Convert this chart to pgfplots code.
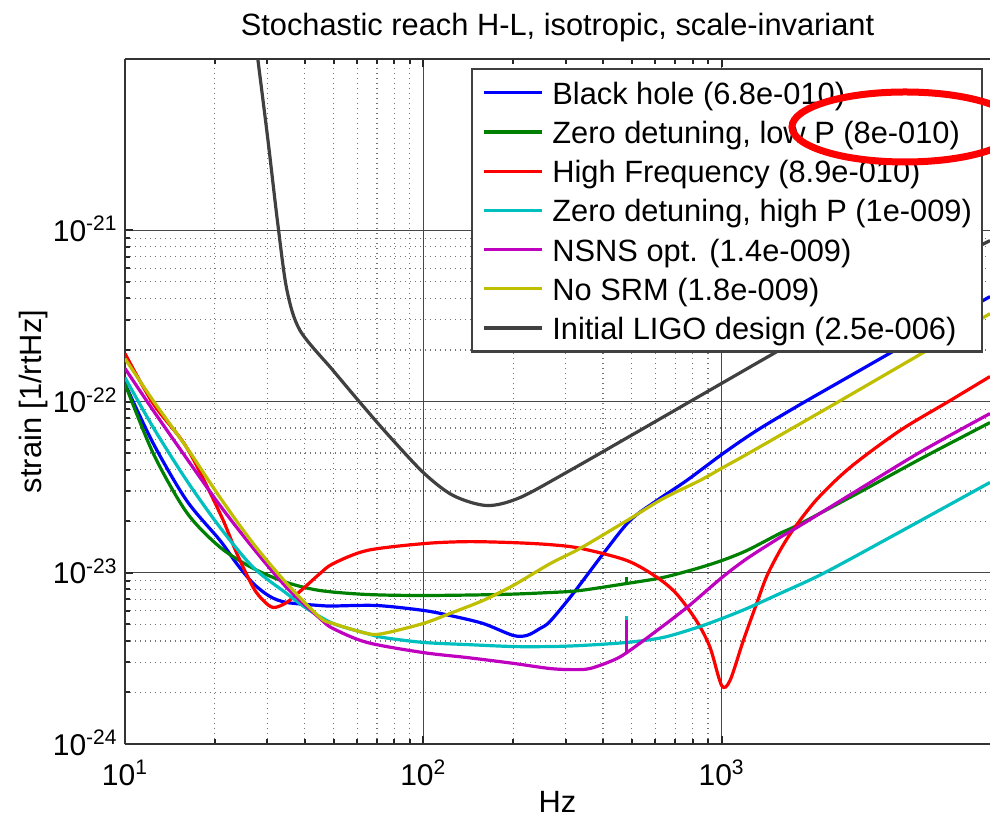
\documentclass[border=0pt]{standalone}
\usepackage{pgfplots}
\pgfplotsset{compat=1.18}
\usepackage{fontspec}
\setmainfont{Liberation Sans}
\definecolor{mblue}{rgb}{0,0,1}
\definecolor{mgreen}{rgb}{0,0.5,0}
\definecolor{mred}{rgb}{1,0,0}
\definecolor{mcyan}{rgb}{0,0.75,0.75}
\definecolor{mmag}{rgb}{0.75,0,0.75}
\definecolor{myel}{rgb}{0.75,0.75,0}
\definecolor{mgray}{rgb}{0.25,0.25,0.25}
\begin{document}
\begin{tikzpicture}[font=\fontsize{15.4pt}{18pt}\selectfont]
\begin{axis}[name=ax, scale only axis, width=432.5pt, height=342.5pt,
  xmode=log, ymode=log, xmin=10, xmax=7940, ymin=1e-24, ymax=1e-20,
  axis x line*=box, axis y line*=left,
  axis line style={line width=1.3pt, black!80},
  tick align=inside, major tick length=4pt, minor tick length=2.5pt,
  tick style={black!85, line width=1pt},
  grid=both,
  major grid style={line width=0.65pt, black!72},
  minor grid style={line width=0.6pt, black!55, dash pattern=on 0.6pt off 1.9pt},
  xtick={10,100,1000}, xticklabels={10\textsuperscript{1},10\textsuperscript{2},10\textsuperscript{3}},
  ytick={1e-24,1e-23,1e-22,1e-21},
  yticklabels={10\textsuperscript{-24},10\textsuperscript{-23},10\textsuperscript{-22},10\textsuperscript{-21}},
  xticklabel style={font=\fontsize{15pt}{18pt}\selectfont, anchor=base, inner sep=0pt, yshift=-20.5pt},
  yticklabel style={font=\fontsize{15pt}{18pt}\selectfont, anchor=base east, inner sep=0pt, xshift=-3.5pt, yshift=-5.5pt},
  title={Stochastic reach H-L, isotropic, scale-invariant},
  title style={at={(axis description cs:0.5,1)}, anchor=base, inner sep=0pt, yshift=6pt},
  xlabel={Hz},
  xlabel style={at={(axis description cs:0.5,0)}, anchor=base, inner sep=0pt, yshift=-34pt},
  ylabel={strain [1/rtHz]},
  ylabel style={at={(axis description cs:-0.0971,0.5)}, anchor=base, inner sep=0pt},
  legend cell align=left,
  legend style={at={(0.992,0.987)}, anchor=north east, draw=mgray, line width=1.2pt, fill=white,
    inner xsep=5pt, inner ysep=4.8pt, row sep=5.6pt,
    nodes={inner sep=0pt, text height=12.8pt, text depth=1.2pt},
    /tikz/every odd column/.append style={column sep=4.5pt}},
  legend image code/.code={\draw[#1] (0pt,0pt) -- (29pt,0pt);},
  every axis plot/.append style={line width=1.6pt, smooth, tension=0.5},
]
\addplot[mblue] coordinates {(10,1.27e-22) (12.44,5.69e-23) (16.1,2.64e-23) (20.83,1.545e-23) (23.69,1.13e-23) (26.92,8.66e-24) (30.63,7.27e-24) (34.84,6.71e-24) (45.05,6.44e-24) (49.93,6.4e-24) (69.95,6.44e-24) (100,6.03e-24) (122.9,5.63e-24) (158.5,5.06e-24) (199.8,4.31e-24) (222.7,4.31e-24) (246.2,4.73e-24) (265.9,5.2e-24) (318,7.57e-24) (402,1.30e-23) (493,2.02e-23) (606,2.64e-23) (764,3.46e-23) (1011,4.97e-23) (1311,6.77e-23) (1832,9.60e-23) (2695,1.41e-22) (3963,2.07e-22) (7940,4.10e-22)};
\addlegendentry{Black hole (6.8e-010)}
\addplot[mgreen] coordinates {(10,1.27e-22) (12.44,4.97e-23) (16.1,2.25e-23) (20.83,1.41e-23) (26.92,1.06e-23) (34.84,8.78e-24) (45.05,7.88e-24) (64.76,7.47e-24) (100,7.37e-24) (180.7,7.47e-24) (265.9,7.67e-24) (335,7.88e-24) (481,8.66e-24) (636,9.39e-24) (827,1.06e-23) (1003,1.18e-23) (1216,1.35e-23) (1570,1.70e-23) (1790,1.89e-23) (2844,2.90e-23) (4734,4.71e-23) (7940,7.54e-23)};
\addlegendentry{Zero detuning, low P (8e-010)}
\addplot[mred] coordinates {(10,1.905e-22) (12.44,9.7e-23) (16.1,5.39e-23) (20.83,2.22e-23) (23.69,1.30e-23) (26.92,8.2e-24) (29.09,6.89e-24) (31.42,6.27e-24) (34.84,6.71e-24) (39.61,8.1e-24) (45.05,9.9e-24) (49.82,1.13e-23) (64.76,1.35e-23) (100,1.48e-23) (140,1.52e-23) (200,1.50e-23) (266,1.46e-23) (336,1.39e-23) (481,1.18e-23) (606,9.43e-24) (706,7.54e-24) (822,5.27e-24) (914,3.68e-24) (1000,2.2e-24) (1067,2.35e-24) (1183,4.03e-24) (1311,6.62e-24) (1416,9.52e-24) (1570,1.35e-23) (1739,1.79e-23) (2084,2.68e-23) (2695,4.12e-23) (3963,6.77e-23) (5833,1.013e-22) (7940,1.40e-22)};
\addlegendentry{High Frequency (8.9e-010)}
\addplot[mcyan] coordinates {(10,1.38e-22) (12.44,7.05e-23) (16.1,3.46e-23) (20.83,1.84e-23) (26.92,1.074e-23) (34.84,7.57e-24) (40.66,6.19e-24) (49.8,5.06e-24) (64.76,4.42e-24) (73.3,4.19e-24) (100,3.92e-24) (140,3.81e-24) (200,3.71e-24) (266,3.71e-24) (336,3.76e-24) (481,3.92e-24) (636,4.19e-24) (827,4.79e-24) (1003,5.41e-24) (1216,6.19e-24) (1570,7.57e-24) (2188,9.9e-24) (3668,1.61e-23) (7940,3.37e-23)};
\addlegendentry{Zero detuning, high P (1e-009)}
\addplot[mmag] coordinates {(10,1.56e-22) (12.44,8.86e-23) (16.1,4.65e-23) (20.83,2.47e-23) (26.92,1.39e-23) (34.84,8.2e-24) (45.05,5.41e-24) (49.8,4.73e-24) (64.76,3.92e-24) (100,3.42e-24) (140,3.20e-24) (200,2.96e-24) (266,2.76e-24) (318,2.72e-24) (362,2.76e-24) (432,3.08e-24) (481,3.42e-24) (607,4.60e-24) (765,6.27e-24) (1003,9.39e-24) (1216,1.21e-23) (1570,1.61e-23) (1790,1.84e-23) (2844,3.02e-23) (4734,5.18e-23) (7940,8.51e-23)};
\addlegendentry{NSNS opt. (1.4e-009)}
\addplot[myel] coordinates {(10,1.78e-22) (12.44,1.01e-22) (16.1,5.39e-23) (20.83,2.75e-23) (26.92,1.48e-23) (34.84,8.67e-24) (45.05,5.48e-24) (49.8,5.06e-24) (64.76,4.42e-24) (73.3,4.42e-24) (100,5.06e-24) (122.9,5.79e-24) (158.5,6.89e-24) (200,8.43e-24) (266,1.13e-23) (336,1.39e-23) (482,2.02e-23) (636,2.71e-23) (846,3.46e-23) (1011,4.12e-23) (1245,5.04e-23) (2495,1.01e-22) (4883,1.99e-22) (7940,3.26e-22)};
\addlegendentry{No SRM (1.8e-009)}
\addplot[mgray] coordinates {(27.28,1.35e-20) (27.92,9.8e-21) (30.16,3.34e-21) (32.58,1.065e-21) (34.92,4.45e-22) (38.62,2.60e-22) (49.82,1.52e-22) (61.37,9.87e-23) (75.57,6.50e-23) (100,3.85e-23) (125.8,2.83e-23) (163.5,2.47e-23) (211,2.75e-23) (310.3,3.96e-23) (504.7,6.43e-23) (801.9,1.023e-22) (1003,1.28e-22) (1453,1.855e-22) (2001,2.53e-22) (7940,8.71e-22)};
\addlegendentry{Initial LIGO design (2.5e-006)}
\addplot[mgreen, forget plot, sharp plot] coordinates {(481,8.66e-24) (481,9.39e-24)};
\addplot[mcyan, forget plot, sharp plot] coordinates {(481,3.92e-24) (481,5.63e-24)};
\addplot[mmag, forget plot, sharp plot] coordinates {(481,3.42e-24) (481,5.27e-24)};
\end{axis}
\pgfresetboundingbox
\path[use as bounding box] ([shift={(-62.5pt,-39.5pt)}]ax.south west) rectangle ([shift={(0pt,29.5pt)}]ax.north east);
\draw[red, line width=3.5pt] ([shift={(390pt,308.5pt)}]ax.south west) ellipse [x radius=56.5pt, y radius=17.5pt];
\end{tikzpicture}
\end{document}
